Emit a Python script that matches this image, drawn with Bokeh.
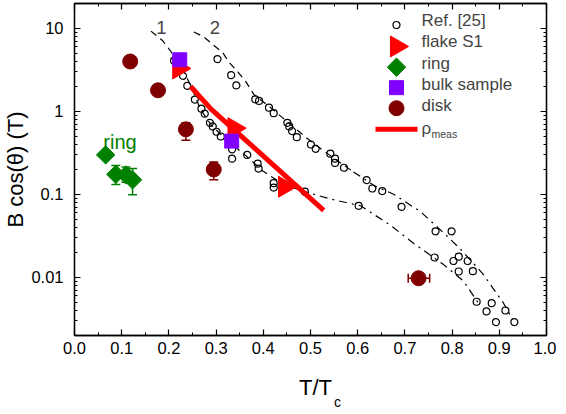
import numpy as np
from bokeh.plotting import figure
from bokeh.models import (ColumnDataSource, FixedTicker, LinearAxis, LogAxis,
                          Label, Whisker, TeeHead, Range1d, NumeralTickFormatter)
from bokeh.embed import file_html
from bokeh.resources import INLINE

# ---------------- data ----------------
ref_T = [0.211, 0.230, 0.239, 0.255, 0.269, 0.276, 0.287, 0.293, 0.301, 0.310, 0.334, 0.334,
         0.366, 0.388, 0.390, 0.422, 0.422, 0.488, 0.602, 0.693, 0.765, 0.799, 0.763, 0.814,
         0.803, 0.833, 0.814, 0.844, 0.852, 0.884, 0.873, 0.913, 0.893, 0.932,
         0.303, 0.332, 0.343, 0.383, 0.391, 0.412, 0.422, 0.451, 0.455, 0.461, 0.471, 0.501,
         0.511, 0.542, 0.552, 0.552, 0.571, 0.619, 0.631, 0.652]
ref_B = [4.09, 2.69, 2.04, 1.39, 1.08, 0.94, 0.73, 0.66, 0.57, 0.50, 0.35, 0.27,
         0.30, 0.235, 0.205, 0.137, 0.121, 0.108, 0.073, 0.071, 0.036, 0.036, 0.0174, 0.0178,
         0.0158, 0.0158, 0.0118, 0.0119, 0.0051, 0.0049, 0.0039, 0.0040, 0.0029, 0.0029,
         4.28, 2.74, 2.06, 1.40, 1.34, 1.11, 0.955, 0.73, 0.66, 0.58, 0.49, 0.40,
         0.355, 0.31, 0.27, 0.24, 0.21, 0.149, 0.118, 0.110]

curve1_upper_T = [0.162, 0.187, 0.204, 0.219, 0.236, 0.250, 0.267, 0.289, 0.320, 0.363, 0.399, 0.437, 0.479]
curve1_upper_B = [9.30, 7.11, 5.30, 3.95, 2.72, 1.82, 1.06, 0.693, 0.464, 0.294, 0.192, 0.139, 0.112]
curve1_lower_T = [0.479, 0.542, 0.606, 0.669, 0.716, 0.782, 0.824, 0.856]
curve1_lower_B = [0.112, 0.0882, 0.0731, 0.0428, 0.0264, 0.0143, 0.00906, 0.0049]

curve2_upper_T = [0.253, 0.274, 0.293, 0.314, 0.327, 0.346, 0.363, 0.380, 0.415, 0.458, 0.500, 0.542, 0.591]
curve2_upper_B = [9.06, 7.92, 6.40, 5.12, 3.95, 3.00, 2.29, 1.60, 1.12, 0.693, 0.44, 0.294, 0.1866]
curve2_lower_T = [0.591, 0.638, 0.676, 0.733, 0.782, 0.818, 0.866, 0.909, 0.928]
curve2_lower_B = [0.1866, 0.125, 0.1008, 0.0622, 0.0345, 0.0219, 0.01092, 0.0049, 0.00316]

flake_T = [0.221, 0.338, 0.445]
flake_B = [3.3, 0.63, 0.124]

ring_T = [0.066, 0.0875, 0.109, 0.123]
ring_B = [0.30, 0.175, 0.172, 0.150]
ring_err_T = [0.0875, 0.109, 0.123]
ring_err_lo = [0.132, 0.140, 0.099]
ring_err_hi = [0.224, 0.215, 0.205]

bulk_T = [0.223, 0.333]
bulk_B = [4.2, 0.44]

disk_T = [0.118, 0.177, 0.236, 0.295, 0.729]
disk_B = [4.0, 1.8, 0.61, 0.20, 0.0098]
disk_verr_T = [0.236, 0.295]
disk_verr_lo = [0.45, 0.151]
disk_verr_hi = [0.73, 0.246]
disk_herr_B = [0.0098]
disk_herr_lo = [0.707]
disk_herr_hi = [0.7525]

rho_T = [0.246, 0.290, 0.528]
rho_B = [2.0, 1.06, 0.0645]

legend_labels = ["Ref. [25]", "flake S1", "ring", "bulk sample", "disk", "ρ"]
rho_subscript = "meas"
curve_labels = ["1", "2"]
x_title, x_title_sub = "T/T", "c"
y_title = "B cos(θ) (T)"

x_ticks = [0.0, 0.1, 0.2, 0.3, 0.4, 0.5, 0.6, 0.7, 0.8, 0.9, 1.0]
x_minor = [0.05, 0.15, 0.25, 0.35, 0.45, 0.55, 0.65, 0.75, 0.85, 0.95]
y_ticks = [0.01, 0.1, 1, 10]
y_tick_labels = ["0.01", "0.1", "1", "10"]
y_minor = [m * 10.0 ** e for e in range(-3, 2) for m in range(2, 10)]

# ---------------- style / layout ----------------
FONT = "Liberation Sans"
RED = "#ff0000"
GREEN = "#008000"
PURPLE = "#8000ff"
DARKRED = "#800000"

X0, X1 = 0.0, 1.0
Y0, Y1 = 0.002, 20.0
W, H = 556, 412
FL, FR, FT, FB = 74, 546, 3, 347   # frame edges in canvas px


def tx(px):
    return X0 + (px - FL) / (FR - FL) * (X1 - X0)


def by(py):
    l0, l1 = np.log10(Y0), np.log10(Y1)
    return 10 ** (l0 + (FB - py) / (FB - FT) * (l1 - l0))


p = figure(width=W, height=H, x_range=Range1d(X0, X1), y_range=Range1d(Y0, Y1),
           y_axis_type="log", output_backend="svg", toolbar_location=None,
           min_border_left=FL, min_border_right=W - FR, min_border_top=FT,
           min_border_bottom=H - FB)
p.xgrid.grid_line_color = None
p.ygrid.grid_line_color = None
p.outline_line_color = "black"
p.outline_line_width = 1.3
p.background_fill_color = "white"
p.border_fill_color = "white"

bottom_axis = p.below[0]
left_axis = p.left[0]
top_axis = LinearAxis()
right_axis = LogAxis()
p.add_layout(top_axis, "above")
p.add_layout(right_axis, "right")

for ax in [bottom_axis, top_axis]:
    ax.ticker = FixedTicker(ticks=x_ticks, minor_ticks=x_minor)
    ax.formatter = NumeralTickFormatter(format="0.0")
for ax in [left_axis, right_axis]:
    ax.ticker = FixedTicker(ticks=y_ticks, minor_ticks=y_minor)
    ax.major_label_overrides = {t: l for t, l in zip(y_ticks, y_tick_labels)}
for ax in [bottom_axis, top_axis, left_axis, right_axis]:
    ax.major_tick_in = 6
    ax.major_tick_out = 0
    ax.minor_tick_in = 3
    ax.minor_tick_out = 0
    ax.axis_line_width = 1.3
    ax.major_tick_line_width = 1.2
    ax.minor_tick_line_width = 1.0
    ax.major_label_text_font = FONT
    ax.major_label_text_font_size = "16.5px"
    ax.major_label_text_color = "black"
for ax in [top_axis, right_axis]:
    ax.major_label_text_font_size = "1px"
    ax.major_label_text_alpha = 0
    ax.major_label_standoff = 0
bottom_axis.major_label_standoff = 6
left_axis.major_label_standoff = 11
left_axis.axis_label = y_title
left_axis.axis_label_text_font = FONT
left_axis.axis_label_text_font_size = "22px"
left_axis.axis_label_text_font_style = "normal"
left_axis.axis_label_text_color = "black"
left_axis.axis_label_standoff = 0

# x title "T/T" with subscript "c", drawn as labels of two extra bare axes
title_pos = tx(315)
sub_pos = tx(337)
for pos, txt, size, standoff in [(title_pos, x_title, "22px", 12), (sub_pos, x_title_sub, "14px", -15)]:
    ax = LinearAxis(ticker=FixedTicker(ticks=[pos], minor_ticks=[]),
                    major_label_overrides={pos: txt},
                    axis_line_color=None, major_tick_line_color=None,
                    minor_tick_line_color=None, major_label_standoff=standoff,
                    major_label_text_font=FONT, major_label_text_font_size=size,
                    major_label_text_color="black")
    p.add_layout(ax, "below")

# reference data curves
kw_dash = dict(line_color="black", line_width=1.2)
p.line(curve1_upper_T, curve1_upper_B, line_dash="7 5", **kw_dash)
p.line(curve1_lower_T, curve1_lower_B, line_dash="8 5 2 5", **kw_dash)
p.line(curve2_upper_T, curve2_upper_B, line_dash="7 5", **kw_dash)
p.line(curve2_lower_T, curve2_lower_B, line_dash="8 5 2 5", **kw_dash)

ref_style = dict(marker="circle", size=7, line_color="black", line_width=1.2, fill_color=None)
p.scatter(ref_T, ref_B, **ref_style)


def whisker(base, lo, hi, dim, color):
    src = ColumnDataSource(dict(base=base, lower=lo, upper=hi))
    return Whisker(source=src, base="base", lower="lower", upper="upper",
                   dimension=dim, line_color=color, line_width=1.5,
                   upper_head=TeeHead(size=9, line_color=color, line_width=1.5),
                   lower_head=TeeHead(size=9, line_color=color, line_width=1.5))


p.add_layout(whisker(ring_err_T, ring_err_lo, ring_err_hi, "height", GREEN))
p.add_layout(whisker(disk_verr_T, disk_verr_lo, disk_verr_hi, "height", DARKRED))
p.add_layout(whisker(disk_herr_B, disk_herr_lo, disk_herr_hi, "width", DARKRED))

rho_style = dict(line_color=RED, line_width=5)
flake_style = dict(marker="triangle", angle=-np.pi / 2, size=21, fill_color=RED, line_color=RED)
ring_style = dict(marker="square", angle=np.pi / 4, size=13, fill_color=GREEN, line_color=GREEN)
bulk_style = dict(marker="square", size=14, fill_color=PURPLE, line_color=PURPLE)
disk_style = dict(marker="circle", size=15, fill_color=DARKRED, line_color=DARKRED)

p.line(rho_T, rho_B, **rho_style)
p.scatter(flake_T, flake_B, **flake_style)
p.scatter(ring_T, ring_B, **ring_style)
p.scatter(bulk_T, bulk_B, **bulk_style)
p.scatter(disk_T, disk_B, **disk_style)

# ---------------- legend (drawn by hand) ----------------
LEG_X = 396
rows_y = [25.3, 47.5, 69.0, 90.2, 111.5]
text_base = [31.7, 52.8, 74.5, 96.0, 117.3]
for yy, st in zip(rows_y, [ref_style, flake_style, ring_style, bulk_style, disk_style]):
    p.scatter([tx(LEG_X)], [by(yy)], **st)
p.line([tx(375), tx(417)], [by(133.3), by(133.3)], **rho_style)
for yb, txt in zip(text_base + [139.5], legend_labels):
    p.add_layout(Label(x=421 - FL, y=FB - yb, x_units="screen", y_units="screen", text=txt,
                       text_font=FONT, text_font_size="17px", text_baseline="alphabetic"))
p.add_layout(Label(x=431 - FL, y=FB - 145.5, x_units="screen", y_units="screen",
                   text=rho_subscript, text_font=FONT, text_font_size="10.5px",
                   text_baseline="alphabetic"))

# curve numbers and "ring" tag
p.add_layout(Label(x=tx(161), y=by(27.5), text=curve_labels[0], text_font=FONT,
                   text_font_size="18.5px", text_align="center", text_baseline="middle"))
p.add_layout(Label(x=tx(214.5), y=by(28.3), text=curve_labels[1], text_font=FONT,
                   text_font_size="18.5px", text_align="center", text_baseline="middle"))
p.add_layout(Label(x=tx(119.5), y=by(146), text="ring", text_font=FONT, text_font_size="20px",
                   text_color=GREEN, text_align="center", text_baseline="alphabetic"))

open("out.html", "w").write(file_html(p, INLINE))
